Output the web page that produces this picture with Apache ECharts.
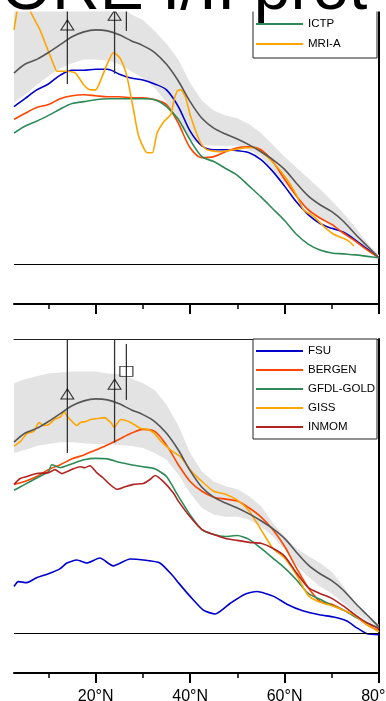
<!DOCTYPE html>
<html><head><meta charset="utf-8">
<script src="https://cdn.jsdelivr.net/npm/echarts@6/dist/echarts.min.js"></script>
<style>html,body{margin:0;padding:0;background:#fff}#c{width:386px;height:701px}</style>
</head><body><div id="c"></div>
<script>
// ---------- data ----------
const LAT = [2.7,5,7.5,10,12.5,15,17.5,20,22.5,25,27.5,30,32.5,35,37.5,40,42.5,45,47.5,50,52.5,55,57.5,60,62.5,65,67.5,70,72.5,75,77.5,80];
const tickLabels = [20,40,60,80];
const minorTicks = [10,30,50,70];

// reference (dark grey) curve, both panels
const meanCurve = [1.95,2.04,2.09,2.16,2.24,2.32,2.37,2.39,2.38,2.34,2.28,2.23,2.16,2.04,1.87,1.66,1.49,1.39,1.33,1.28,1.22,1.15,1.07,0.97,0.83,0.70,0.61,0.54,0.44,0.31,0.19,0.07];

// top panel
const topBandLow  = [1.65,1.73,1.83,1.92,2.00,2.05,2.09,2.09,2.08,2.04,1.97,1.90,1.80,1.65,1.44,1.27,1.22,1.21,1.21,1.21,1.17,1.10,0.97,0.83,0.68,0.54,0.46,0.39,0.31,0.22,0.14,0.07];
const topBandHigh = [2.62,2.66,2.70,2.72,2.74,2.75,2.75,2.74,2.70,2.64,2.55,2.49,2.38,2.25,2.09,1.85,1.67,1.57,1.52,1.49,1.43,1.34,1.22,1.10,0.99,0.88,0.77,0.65,0.52,0.38,0.22,0.10];
const topBlue  = [1.61,1.69,1.78,1.84,1.93,1.98,1.98,1.99,1.99,1.94,1.90,1.88,1.84,1.78,1.61,1.36,1.21,1.17,1.17,1.16,1.14,1.07,0.95,0.80,0.64,0.51,0.42,0.37,0.33,0.25,0.16,0.07];
const topRed   = [1.48,1.54,1.60,1.63,1.69,1.72,1.73,1.72,1.71,1.71,1.70,1.70,1.68,1.63,1.44,1.19,1.09,1.10,1.15,1.19,1.20,1.17,1.05,0.87,0.70,0.56,0.475,0.41,0.32,0.24,0.15,0.07];
const ictp     = [1.34,1.41,1.46,1.52,1.585,1.64,1.66,1.68,1.69,1.69,1.69,1.69,1.68,1.61,1.48,1.27,1.10,1.05,0.98,0.91,0.80,0.69,0.57,0.45,0.31,0.21,0.15,0.12,0.11,0.10,0.085,0.07];
const mriLat = [2.7,3.5,4.5,5.5,6.1,7.0,8.2,9.6,11.0,11.8,14.0,15.7,17.5,18.9,20.0,21.0,22.5,23.8,25.2,26.6,28.0,29.1,30.9,32.0,33.0,34.5,35.9,36.6,37.3,38.0,39.0,40.1,42.2,43.6,46.5,49.3,52.1,53.5,55.0,57.6,60.5,62.6,64.0,66.2,68.3,70.4,73.3,74.7];
const mriVal = [2.39,2.62,2.78,2.72,2.59,2.50,2.39,2.22,2.05,1.97,1.97,1.95,1.83,1.78,1.78,1.87,2.05,2.16,2.10,1.92,1.58,1.31,1.14,1.14,1.34,1.46,1.53,1.68,1.77,1.78,1.71,1.51,1.24,1.17,1.15,1.17,1.19,1.19,1.15,1.04,0.87,0.70,0.56,0.49,0.39,0.31,0.25,0.19];

// bottom panel
const botBandLow  = [1.84,1.87,1.91,1.93,1.95,1.95,1.94,1.93,1.93,1.92,1.91,1.89,1.84,1.77,1.62,1.43,1.28,1.21,1.19,1.19,1.16,1.09,0.99,0.86,0.70,0.58,0.48,0.41,0.31,0.21,0.13,0.07];
const botBandHigh = [2.55,2.59,2.62,2.65,2.66,2.67,2.67,2.67,2.65,2.64,2.60,2.55,2.48,2.33,2.12,1.84,1.65,1.55,1.50,1.47,1.40,1.30,1.13,0.99,0.87,0.79,0.72,0.63,0.48,0.31,0.18,0.09];
const fsuLat = [2.7,3.6,5.4,7.5,10.0,12.4,13.9,16.0,18.1,20.9,23.7,27.3,30.1,33.6,36.5,37.5,40.0,42.8,45.3,48.5,51.5,54.1,57.7,60.5,64.0,67.6,70.4,73.2,75.3,77.5,80.0];
const fsuVal = [0.48,0.53,0.52,0.57,0.61,0.66,0.72,0.75,0.72,0.77,0.69,0.76,0.75,0.72,0.58,0.52,0.38,0.24,0.20,0.31,0.40,0.43,0.38,0.30,0.23,0.19,0.17,0.13,0.06,0.00,-0.01];
const bergen = [1.52,1.55,1.60,1.67,1.72,1.78,1.82,1.87,1.92,1.98,2.04,2.08,2.06,1.92,1.72,1.55,1.45,1.39,1.37,1.35,1.28,1.19,1.06,0.89,0.67,0.47,0.33,0.30,0.24,0.18,0.09,0.03];
const gfdlLat = [2.7,5,7.5,10,10.7,12.5,15,17.5,20,22.5,25,27.5,30,32.5,35,37.5,40,42.5,45,47.5,50,52.5,55,57.5,60,62.5,65,67.5,70,72.5,75,77.5,80];
const gfdlVal = [1.46,1.52,1.585,1.65,1.72,1.69,1.73,1.77,1.785,1.78,1.745,1.72,1.70,1.68,1.60,1.40,1.21,1.06,1.01,0.99,1.00,0.96,0.87,0.77,0.67,0.55,0.41,0.35,0.29,0.24,0.17,0.11,0.06];
const gissLat = [2.7,4.1,5.5,6.9,8.0,9.0,10.1,11.2,12.6,13.3,14.0,15.0,16.0,16.8,17.9,18.9,20.4,21.8,23.2,23.9,25.3,27.4,29.5,31.0,32.4,33.8,35.9,38.0,40.0,42.5,45,47.5,50,52.5,55,57.5,60,62.5,65,67.5,70,72.5,75,77.5,80];
const gissVal = [1.91,1.96,2.04,2.06,2.15,2.12,2.13,2.18,2.21,2.26,2.21,2.16,2.12,2.15,2.16,2.18,2.19,2.20,2.15,2.10,2.18,2.15,2.09,2.08,2.04,1.96,1.87,1.80,1.67,1.55,1.45,1.42,1.36,1.25,1.06,0.87,0.77,0.60,0.39,0.32,0.285,0.24,0.18,0.09,0.02];
const inmLat = [2.7,4.0,5.4,7.5,10.0,11.4,12.8,13.9,15.3,16.7,17.7,18.8,20.2,21.6,23.0,24.5,25.9,28.0,30.1,31.5,32.6,34.3,36.5,37.5,40,42.5,45,47.5,50,52.5,55,57.5,60,62.5,65,67.5,70,72.5,75,77.5,80];
const inmVal = [1.52,1.58,1.60,1.63,1.64,1.67,1.63,1.65,1.68,1.70,1.69,1.71,1.64,1.585,1.52,1.47,1.49,1.52,1.53,1.57,1.61,1.55,1.43,1.35,1.19,1.06,1.01,0.97,0.95,0.93,0.92,0.87,0.79,0.62,0.47,0.41,0.36,0.28,0.19,0.11,0.05];

// observations (error bars + markers), both panels
const obsLat  = [14, 24, 26.5];
const obsVal  = [2.44, 2.54, 2.67];
const obsLow  = [1.84, 1.945, 2.38];
const obsHigh = [3.04, 3.13, 2.95];
const obsSymbol = ['triangle','triangle','rect'];

const titleText = 'CORE I/II prot';

// ---------- chart ----------
const FONT = '"Liberation Sans", Arial, Helvetica, sans-serif';
const pairs = (xs, ys) => xs.map((x, i) => [x, ys[i]]);
const chart = echarts.init(document.getElementById('c'), null, {renderer: 'canvas'});

const X_MIN = 2.7, X_MAX = 80, Y_MIN = -0.4, Y_MAX = 3.0;

function majorX(gi, withLabels) {
  return {
    type: 'value', gridIndex: gi, min: X_MIN, max: X_MAX, position: 'bottom',
    axisLine: {show: true, onZero: false, lineStyle: {color: '#000', width: 2}},
    axisTick: {show: true, customValues: tickLabels, length: 10, lineStyle: {color: '#000', width: 2}},
    axisLabel: withLabels ? {show: true, customValues: tickLabels, formatter: v => v + '°N',
      fontFamily: FONT, fontSize: 16, color: '#000', margin: 16} : {show: false},
    splitLine: {show: false}
  };
}
function minorX(gi) {
  return {
    type: 'value', gridIndex: gi, min: X_MIN, max: X_MAX, position: 'bottom',
    axisLine: {show: false, onZero: false},
    axisTick: {show: true, customValues: minorTicks, length: 5, lineStyle: {color: '#000', width: 1.5}},
    axisLabel: {show: false}, splitLine: {show: false}
  };
}
function yAx(gi) {
  return {
    type: 'value', gridIndex: gi, min: Y_MIN, max: Y_MAX, position: 'right',
    axisLine: {show: true, onZero: false, lineStyle: {color: '#000', width: 2}},
    axisTick: {show: false}, axisLabel: {show: false}, splitLine: {show: false}
  };
}
function band(xi, yi, low, high) {
  return {
    type: 'custom', name: 'band', xAxisIndex: xi, yAxisIndex: yi, clip: true, silent: true, z: 1,
    data: [[LAT[0], low[0]]], encode: {x: 0, y: 1},
    renderItem: (p, api) => {
      const pts = [];
      LAT.forEach((x, i) => pts.push(api.coord([x, high[i]])));
      for (let i = LAT.length - 1; i >= 0; i--) pts.push(api.coord([LAT[i], low[i]]));
      return {type: 'polygon', shape: {points: pts}, style: {fill: '#e3e3e3'}};
    }
  };
}
function line(name, xi, yi, data, color, extra) {
  return Object.assign({
    type: 'line', name, xAxisIndex: xi, yAxisIndex: yi, data, color,
    symbol: 'none', smooth: 0.3, z: 3, silent: true,
    lineStyle: {color, width: 1.6}
  }, extra || {});
}
function bars(xi, yi) {
  return {
    type: 'custom', name: 'obs-bars', xAxisIndex: xi, yAxisIndex: yi, clip: true, silent: true, z: 6,
    data: obsLat.map((x, i) => [x, obsLow[i], obsHigh[i]]), encode: {x: 0, y: [1, 2]},
    renderItem: (p, api) => {
      const a = api.coord([api.value(0), api.value(1)]);
      const b = api.coord([api.value(0), api.value(2)]);
      return {type: 'line', shape: {x1: a[0], y1: a[1], x2: b[0], y2: b[1]},
        style: {stroke: '#333', lineWidth: 1.3}};
    }
  };
}
function markers(xi, yi) {
  return {
    type: 'scatter', name: 'obs', xAxisIndex: xi, yAxisIndex: yi, silent: true, z: 7,
    data: obsLat.map((x, i) => ({value: [x, obsVal[i]], symbol: obsSymbol[i]})),
    symbolSize: [13, 10],
    itemStyle: {color: 'rgba(0,0,0,0)', borderColor: '#000', borderWidth: 1}
  };
}
const zeroLine = {silent: true, symbol: 'none', label: {show: false},
  lineStyle: {color: '#000', width: 1, type: 'solid'}, data: [{yAxis: 0}]};

const legendBase = {
  orient: 'vertical', left: 253, itemWidth: 47, itemHeight: 2, icon: 'rect',
  borderColor: '#222', borderWidth: 1, backgroundColor: '#fff', selectedMode: false,
  textStyle: {fontFamily: FONT, fontSize: 11.5, color: '#000', width: 69, lineHeight: 14}
};

const option = {
  animation: false,
  backgroundColor: '#fff',
  grid: [
    {left: 14, right: 7, top: -30, height: 334, containLabel: false, outerBoundsMode: 'none'},
    {left: 14, right: 7, top: 339, height: 334, containLabel: false, outerBoundsMode: 'none'}
  ],
  xAxis: [
    majorX(0, false), minorX(0),
    majorX(1, true), minorX(1),
    {type: 'value', gridIndex: 1, min: X_MIN, max: X_MAX, position: 'top',
      axisLine: {show: true, onZero: false, lineStyle: {color: '#222', width: 1}},
      axisTick: {show: false}, axisLabel: {show: false}, splitLine: {show: false}}
  ],
  yAxis: [yAx(0), yAx(1)],
  legend: [
    Object.assign({}, legendBase, {data: ['ICTP', 'MRI-A'], top: 10, padding: [7, 0, 7, 3], itemGap: 6}),
    Object.assign({}, legendBase, {data: ['FSU', 'BERGEN', 'GFDL-GOLD', 'GISS', 'INMOM'], top: 339, padding: [5, 0, 5, 3], itemGap: 5})
  ],
  graphic: [
    {type: 'rect', x: 0, y: 0, shape: {width: 386, height: 11.5}, style: {fill: '#fff'}, z: 100},
    {type: 'text', x: -47, y: -9, z: 101,
      style: {text: titleText, font: '66px ' + FONT, fill: '#000', verticalAlign: 'middle'}}
  ],
  series: [
    // top panel
    band(0, 0, topBandLow, topBandHigh),
    line('top-blue', 0, 0, pairs(LAT, topBlue), '#0000cd'),
    line('top-red', 0, 0, pairs(LAT, topRed), '#ff4500'),
    line('ICTP', 0, 0, pairs(LAT, ictp), '#2e8b57'),
    line('MRI-A', 0, 0, pairs(mriLat, mriVal), '#ffa500', {smooth: 0.2}),
    line('reference-top', 0, 0, pairs(LAT, meanCurve), '#555', {z: 4, markLine: zeroLine}),
    bars(0, 0), markers(0, 0),
    // bottom panel
    band(2, 1, botBandLow, botBandHigh),
    line('FSU', 2, 1, pairs(fsuLat, fsuVal), '#0000cd', {smooth: 0.2}),
    line('BERGEN', 2, 1, pairs(LAT, bergen), '#ff4500'),
    line('GFDL-GOLD', 2, 1, pairs(gfdlLat, gfdlVal), '#2e8b57', {smooth: 0.2}),
    line('GISS', 2, 1, pairs(gissLat, gissVal), '#ffa500', {smooth: 0.2}),
    line('INMOM', 2, 1, pairs(inmLat, inmVal), '#b22222', {smooth: 0.2}),
    line('reference-bottom', 2, 1, pairs(LAT, meanCurve), '#555', {z: 4, markLine: zeroLine}),
    bars(2, 1), markers(2, 1)
  ]
};
chart.setOption(option);
</script>
</body></html>
